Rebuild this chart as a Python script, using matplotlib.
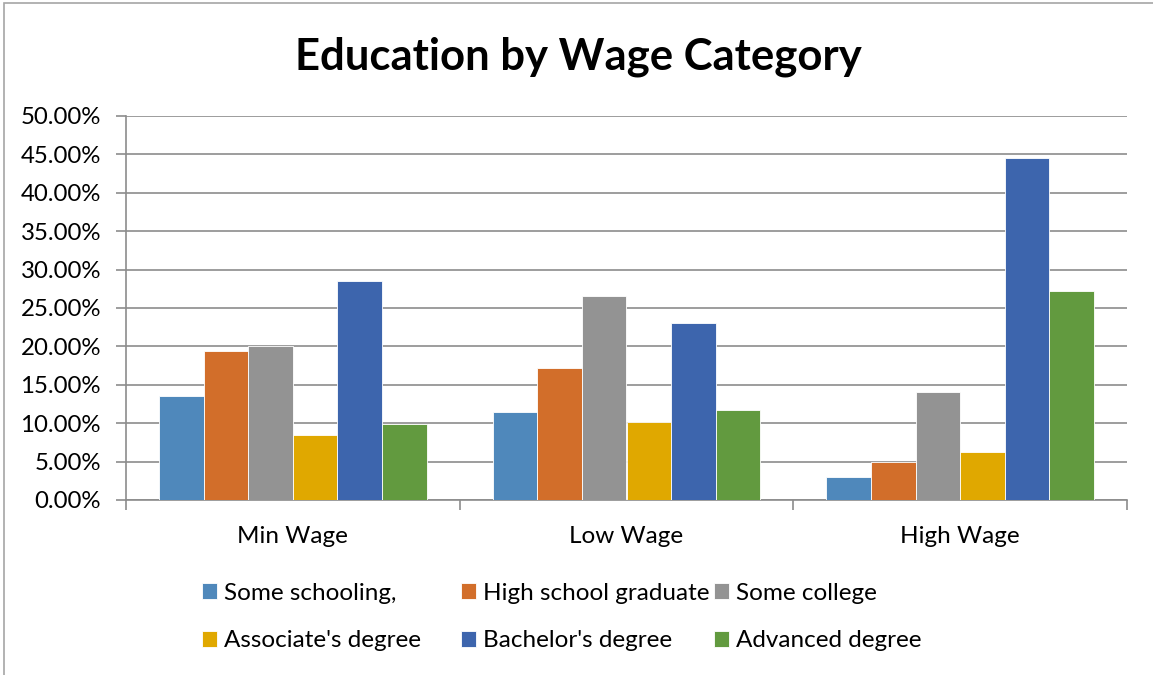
import matplotlib
matplotlib.use('Agg')

import numpy as np
import matplotlib.pyplot as plt
from matplotlib.patches import Rectangle
from matplotlib.ticker import FuncFormatter

# Dữ liệu
categories = ["Min Wage", "Low Wage", "High Wage"]
series_names = ["Some schooling,", "High school graduate", "Some college",
                "Associate's degree", "Bachelor's degree", "Advanced degree"]
some_schooling = [13.6, 11.4, 3.0]
high_school = [19.35, 17.2, 5.0]
some_college = [20.1, 26.6, 14.0]
associate = [8.5, 10.2, 6.3]
bachelor = [28.55, 23.05, 44.55]
advanced = [9.95, 11.75, 27.2]
colors = ["#4f88bb", "#d26e2a", "#939393", "#e0a800", "#3d65ad", "#629a3f"]

plt.rcParams['font.family'] = ['Lato', 'DejaVu Sans']

W, H = 1153, 675
fig = plt.figure(figsize=(W/100, H/100), dpi=100)
ax = fig.add_axes([126/W, 1 - 500/H, (1127-126)/W, 384/H])

# Khung viền của biểu đồ
fig.patches.append(Rectangle((4/W, -0.01), 1.1, 1 - 3/H + 0.01, transform=fig.transFigure,
                             fill=False, edgecolor='#a6a6a6', linewidth=1.2))

x = np.arange(len(categories))
bar_w = 0.1336
all_series = [some_schooling, high_school, some_college, associate, bachelor, advanced]
handles = []
for i, (vals, name, c) in enumerate(zip(all_series, series_names, colors)):
    offs = (i - 2.5) * bar_w
    b = ax.bar(x + offs, np.array(vals) / 100, bar_w, color=c, label=name,
               edgecolor='white', linewidth=0.6, zorder=3)
    handles.append(b)

ax.set_xlim(-0.5, 2.5)
ax.set_ylim(0, 0.5)
ax.set_yticks(np.arange(0, 0.501, 0.05))
ax.yaxis.set_major_formatter(FuncFormatter(lambda v, p: f"{v*100:.2f}%"))
ax.grid(axis='y', color='#8c8c8c', linewidth=1.2, zorder=0)

for s in ['top', 'right']:
    ax.spines[s].set_visible(False)
for s in ['left', 'bottom']:
    ax.spines[s].set_color('#8c8c8c')
    ax.spines[s].set_linewidth(1.2)

ax.set_xticks(x)
ax.set_xticklabels(categories)
ax.set_xticks([-0.5, 0.5, 1.5, 2.5], minor=True)
ax.tick_params(axis='x', which='major', length=0, pad=19, labelsize=17.5)
ax.tick_params(axis='x', which='minor', length=7, color='#8c8c8c', width=1.2)
ax.tick_params(axis='y', length=7, color='#8c8c8c', width=1.2, labelsize=17.3, pad=11)

fig.text(0.5015, 1 - 57/H, "Education by Wage Category", ha='center', va='center',
         fontsize=31.4, fontweight='bold')

# Chú thích: 3 cột, mỗi cột 2 dòng (xếp theo hàng như Excel)
col_x = [202, 461, 714]
for j in range(3):
    idx = [j, j + 3]
    fig.legend([handles[k] for k in idx], [series_names[k] for k in idx],
               loc='center left', bbox_to_anchor=(col_x[j]/W, 1 - 617/H),
               frameon=False, fontsize=17.5, handlelength=0.6, handleheight=0.6,
               handletextpad=0.3, labelspacing=1.1, borderpad=0, borderaxespad=0)

fig.savefig("out.png", dpi=100)
